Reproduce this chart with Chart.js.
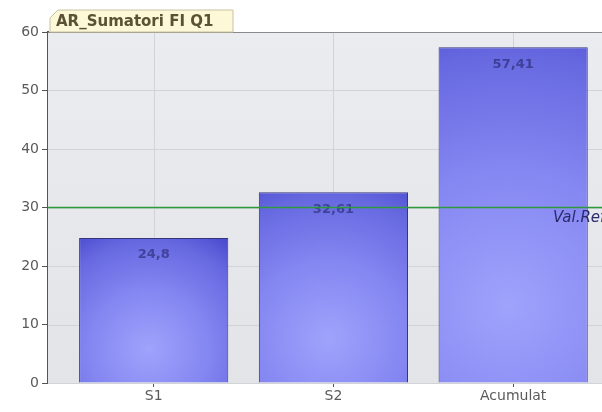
<!DOCTYPE html>
<html>
<head>
<meta charset="utf-8">
<script src="https://cdn.jsdelivr.net/npm/chart.js@4"></script>
<style>
  html, body { margin: 0; padding: 0; background: #fff; }
  #wrap { width: 602px; height: 412px; overflow: hidden; position: relative; }
  #chart { position: absolute; left: 0; top: 0; }
</style>
</head>
<body>
<div id="wrap"><canvas id="chart" width="640" height="412"></canvas></div>
<script>
const categories = ["S1", "S2", "Acumulat"];
const values = [24.8, 32.61, 57.41];
const yTicks = [0, 10, 20, 30, 40, 50, 60];
const refValue = 30;
const refLabel = "Val.Ref";
const chartTitle = "AR_Sumatori FI Q1";

const FONT = "'DejaVu Sans', Verdana, sans-serif";

function fmt(v) {
    return String(v).replace(".", ",");
}

// plot background, value labels, reference line and the title tab
const decorPlugin = {
    id: "decor",
    beforeDatasetsDraw(chart) {
        const { ctx, chartArea: a } = chart;
        ctx.save();
        const g = ctx.createLinearGradient(0, a.top, 0, a.bottom);
        g.addColorStop(0, "#ebecef");
        g.addColorStop(1, "#e3e4e8");
        ctx.fillStyle = g;
        ctx.fillRect(a.left, a.top, a.right - a.left, a.bottom - a.top);
        // grid lines on top of the background
        ctx.strokeStyle = "#d2d3d8";
        ctx.lineWidth = 1;
        const ys = chart.scales.y, xs = chart.scales.x;
        yTicks.forEach(t => {
            const y = Math.round(ys.getPixelForValue(t)) + 0.5;
            ctx.beginPath(); ctx.moveTo(a.left, y); ctx.lineTo(a.right, y); ctx.stroke();
        });
        categories.forEach((c, i) => {
            const x = Math.round(xs.getPixelForValue(i)) + 0.5;
            ctx.beginPath(); ctx.moveTo(x, a.top); ctx.lineTo(x, a.bottom); ctx.stroke();
        });
        ctx.restore();
    },
    afterDatasetsDraw(chart) {
        const { ctx, chartArea: a } = chart;
        const ys = chart.scales.y;
        const meta = chart.getDatasetMeta(0);
        ctx.save();
        // value labels inside bars
        ctx.font = "bold 13px " + FONT;
        ctx.fillStyle = "rgba(35,35,105,0.6)";
        ctx.textAlign = "center";
        ctx.textBaseline = "middle";
        meta.data.forEach((bar, i) => {
            ctx.fillText(fmt(values[i]), bar.x, bar.y + 17);
        });
        // reference line
        const ry = ys.getPixelForValue(refValue);
        ctx.strokeStyle = "#2f9a3c";
        ctx.lineWidth = 1.5;
        ctx.beginPath(); ctx.moveTo(a.left, ry); ctx.lineTo(a.right, ry); ctx.stroke();
        ctx.font = "italic 15px " + FONT;
        ctx.fillStyle = "#2a2a6c";
        ctx.textAlign = "left";
        ctx.fillText(refLabel, 553, ry + 11);
        // top border of plot
        ctx.strokeStyle = "#8a8a8a";
        ctx.lineWidth = 1;
        ctx.beginPath(); ctx.moveTo(a.left, a.top + 0.5); ctx.lineTo(a.right, a.top + 0.5); ctx.stroke();
        // title tab
        const x0 = 50, x1 = 233, y0 = 10, y1 = a.top;
        ctx.beginPath();
        ctx.moveTo(x0, y1);
        ctx.lineTo(x0, y0 + 8);
        ctx.lineTo(x0 + 8, y0);
        ctx.lineTo(x1, y0);
        ctx.lineTo(x1, y1);
        ctx.closePath();
        ctx.fillStyle = "#fdf8d8";
        ctx.fill();
        ctx.strokeStyle = "#c9c2a2";
        ctx.stroke();
        ctx.font = "bold 15px " + FONT;
        ctx.fillStyle = "#5a5232";
        ctx.textBaseline = "middle";
        ctx.fillText(chartTitle, x0 + 6, (y0 + y1) / 2 + 1);
        ctx.restore();
    }
};

function barFill(context) {
    const chart = context.chart;
    if (!chart.chartArea || !chart.scales.x) return "#6a6ae0";
    const xs = chart.scales.x, ys = chart.scales.y;
    const i = context.dataIndex;
    const cx = xs.getPixelForValue(i) - 5;
    const top = ys.getPixelForValue(values[i]);
    const bottom = ys.getPixelForValue(0);
    const h = bottom - top;
    const r = Math.max(h, 140);
    const cy = bottom - h * 0.23;
    const g = chart.ctx.createRadialGradient(cx, cy, 0, cx, cy, r);
    g.addColorStop(0, "#a0a3fb");
    g.addColorStop(0.4, "#8587f2");
    g.addColorStop(0.75, "#6668e0");
    g.addColorStop(1, "#3e3ec6");
    return g;
}

new Chart(document.getElementById("chart"), {
    type: "bar",
    data: {
        datasets: [{
            data: values.map((v, i) => ({ x: i, y: v })),
            backgroundColor: barFill,
            borderColor: "#35357e",
            borderWidth: 1,
            categoryPercentage: 1,
            barPercentage: 0.83
        }]
    },
    options: {
        responsive: false,
        animation: false,
        layout: { padding: { top: 32, left: 0, right: 10, bottom: 0 } },
        plugins: {
            legend: { display: false },
            tooltip: { enabled: false }
        },
        scales: {
            x: {
                type: "linear",
                offset: false,
                min: -0.588,
                max: 2.65,
                afterBuildTicks: scale => { scale.ticks = categories.map((c, i) => ({ value: i })); },
                afterFit: scale => { scale.height = 29; },
                ticks: {
                    callback: v => categories[v],
                    font: { family: FONT, size: 14 },
                    color: "#5a5a5a",
                    padding: 1,
                    maxRotation: 0,
                    autoSkip: false
                },
                grid: { display: true, offset: false, drawOnChartArea: false, tickLength: 4, tickColor: "#555" },
                border: { display: true, color: "#555", width: 2 }
            },
            y: {
                min: 0,
                max: 60,
                afterBuildTicks: scale => { scale.ticks = yTicks.map(v => ({ value: v })); },
                afterFit: scale => { scale.width = 48; },
                ticks: {
                    font: { family: FONT, size: 14 },
                    color: "#5a5a5a",
                    padding: 3
                },
                grid: { display: true, drawOnChartArea: false, tickLength: 6, tickColor: "#555" },
                border: { display: true, color: "#555", width: 2 }
            }
        }
    },
    plugins: [decorPlugin]
});
</script>
</body>
</html>
